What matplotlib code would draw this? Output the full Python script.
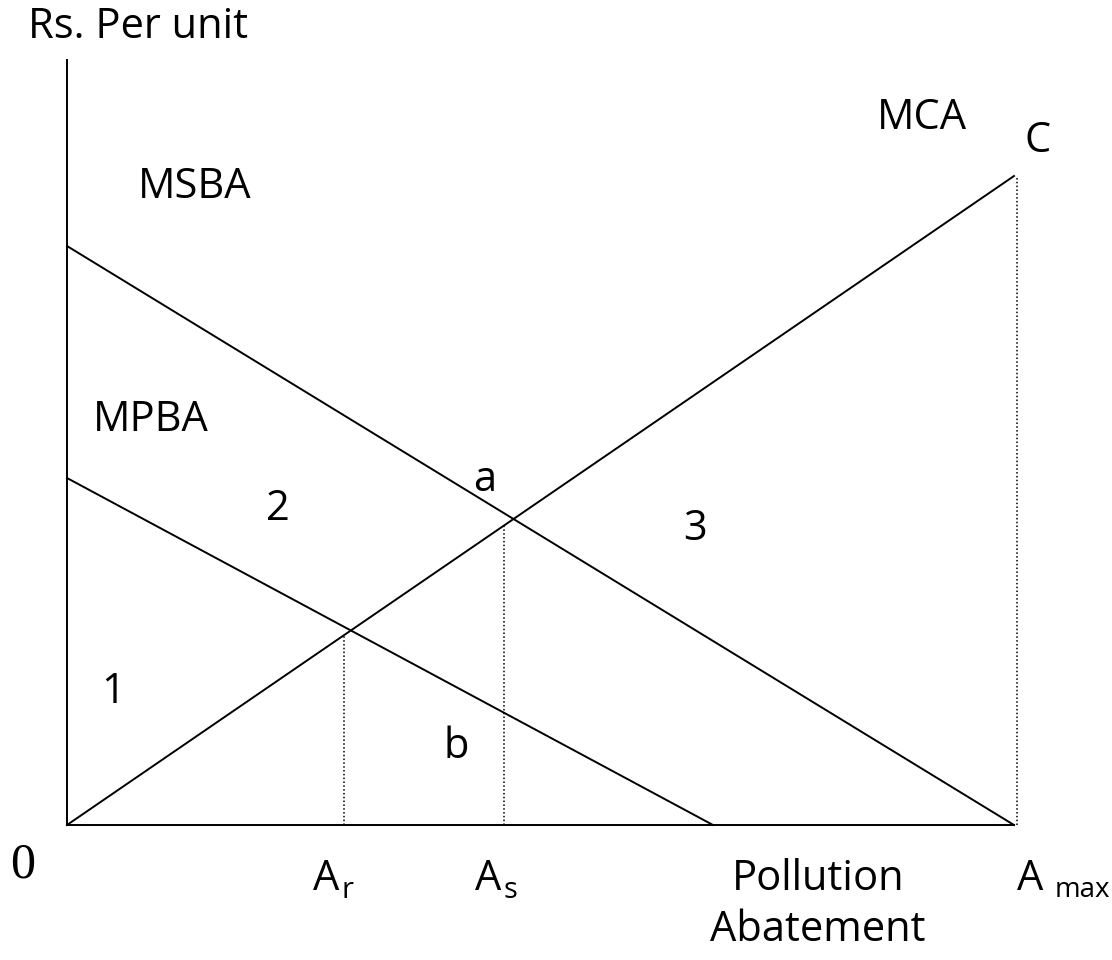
import numpy as np
import matplotlib
matplotlib.use("Agg")
import matplotlib.pyplot as plt

# diagram values (abatement on x, Rs. per unit on y)
a_max = 947.0
mca_top = 649.0          # MCA value at A max
msba_icpt = 579.0        # MSBA at zero abatement
mpba_icpt = 347.0        # MPBA at zero abatement
mpba_end = 646.0         # abatement where MPBA hits zero
a_r = 277.0
a_s = 437.0
y_axis_top = 765.0

curve_names = ["MCA", "MSBA", "MPBA"]
curve_x = [[0, a_max], [0, a_max], [0, mpba_end]]
curve_y = [[0, mca_top], [msba_icpt, 0], [mpba_icpt, 0]]

font = "Open Sans"
fs = 30

fig = plt.figure(figsize=(11.12, 9.6), dpi=100)
ax = fig.add_axes([0, 0, 1, 1])
ax.set_xlim(-67, 1045)
ax.set_ylim(-135, 825)
ax.axis("off")

# axes of the diagram
ax.plot([0, 0], [0, y_axis_top], color="black", lw=1.4)
ax.plot([0, a_max], [0, 0], color="black", lw=1.4)

for xs, ys in zip(curve_x, curve_y):
    ax.plot(xs, ys, color="black", lw=1.4)

# dotted drop lines
mca_x, mca_y = curve_x[0], curve_y[0]
for xv in [a_r, a_s, a_max]:
    ax.plot([xv + (3 if xv == a_max else 0)] * 2, [0, np.interp(xv, mca_x, mca_y)],
            color="black", lw=1.1, ls=(0, (1, 1.5)))


def lab(x, y, s, size=fs, ha="center"):
    ax.text(x, y, s, fontsize=size, family=font, ha=ha, va="center")


lab(-39, 798, "Rs. Per unit", ha="left")
lab(855, 707, "MCA")
lab(971, 684, "C")
lab(128, 638, "MSBA")
lab(84, 405, "MPBA")
lab(418, 345, "a")
lab(211, 316, "2")
lab(628, 296, "3")
lab(46, 133, "1")
lab(389, 78, "b")
ax.text(-44, -40, "0", fontsize=36, family="Liberation Serif", ha="center", va="center")

# x axis labels
lab(259, -54, "A")
lab(280, -66, "r", size=21)
lab(421, -54, "A")
lab(443, -66, "s", size=21)
lab(751, -54, "Pollution")
lab(751, -105, "Abatement")
lab(963, -54, "A")
lab(1015, -65, "max", size=20)

fig.savefig("out.png", dpi=100)
